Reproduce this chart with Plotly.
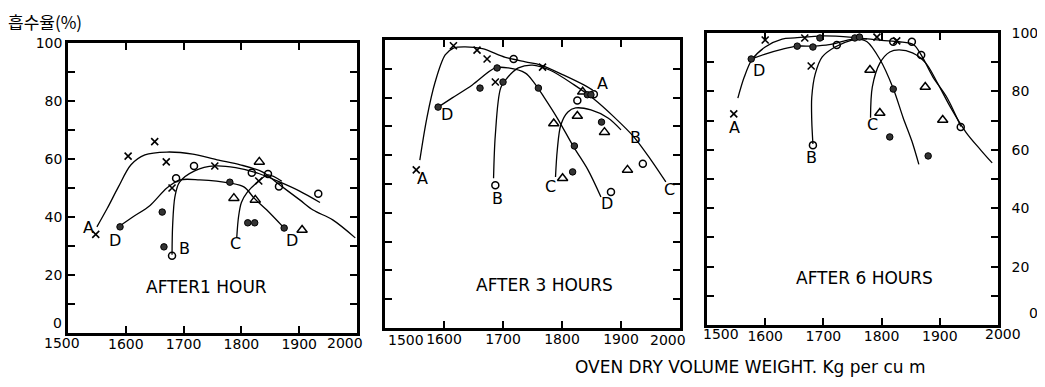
import plotly.graph_objects as go

# ---------------- data ----------------
x_ticks = [1500, 1600, 1700, 1800, 1900, 2000]
x_tick_text = ["1500", "1600", "1700", "1800", "1900", "2000"]
y_ticks = [0, 10, 20, 30, 40, 50, 60, 70, 80, 90, 100]
y_tick_text = ["0", "", "20", "", "40", "", "60", "", "80", "", "100"]

panel_titles = ["AFTER1 HOUR", "AFTER 3 HOURS", "AFTER 6 HOURS"]
title_x = [1740, 1771, 1771]
title_y = [16, 15, 16]

# Panel 1: after 1 hour
p1_cross_x = [1548, 1604, 1650, 1670, 1680, 1754, 1830]
p1_cross_y = [34, 61, 66, 59, 50, 57.6, 52.4]
p1_circle_x = [1680, 1687, 1718, 1818, 1846, 1865, 1933]
p1_circle_y = [26.6, 53.4, 57.6, 55.3, 54.8, 50.5, 48]
p1_tri_x = [1787, 1824, 1831, 1905]
p1_tri_y = [46.5, 45.9, 59, 35.5]
p1_dot_x = [1590, 1663, 1666, 1780, 1811, 1823, 1874]
p1_dot_y = [36.6, 41.7, 29.7, 52, 38, 38, 36.2]

p1_A_x = [1550, 1568, 1587, 1609, 1633, 1671, 1716, 1758, 1798, 1837, 1862, 1901, 1924, 1958, 1997]
p1_A_y = [36.6, 43, 50.3, 58, 61.4, 62.4, 61.7, 59.7, 58, 55.5, 51.7, 45.9, 42.4, 39, 32.8]
p1_B_x = [1680, 1681, 1685, 1693, 1720, 1754, 1790, 1830, 1867, 1900, 1936]
p1_B_y = [27, 37, 47, 52, 56, 57.6, 57, 55, 52, 49, 45]
p1_C_x = [1792, 1795, 1800, 1810, 1830, 1846, 1870]
p1_C_y = [33, 40, 45, 48.5, 52.4, 54.5, 52.3]
p1_D_x = [1590, 1612, 1642, 1671, 1694, 1728, 1780, 1805, 1822, 1844, 1872]
p1_D_y = [37, 40, 44, 50, 52.8, 52.8, 51.7, 50.3, 46.5, 42.4, 36.6]

p1_lbl_text = ["A", "D", "B", "C", "D"]
p1_lbl_x = [1536, 1581, 1702, 1789, 1888]
p1_lbl_y = [36.5, 32, 29.3, 31, 32]

# Panel 2: after 3 hours
p2_cross_x = [1553, 1616, 1656, 1673, 1687, 1767]
p2_cross_y = [54.9, 98, 96.5, 93.4, 85.4, 90.6]
p2_circle_x = [1687, 1718, 1826, 1854, 1883, 1937]
p2_circle_y = [49.6, 93.4, 79, 81.2, 47.2, 57]
p2_tri_x = [1786, 1801, 1826, 1835, 1872, 1911]
p2_tri_y = [71, 52, 73.6, 82, 68, 54.9]
p2_dot_x = [1590, 1661, 1690, 1700, 1760, 1818, 1821, 1843, 1849, 1867]
p2_dot_y = [76.7, 83.3, 90.3, 85.4, 83.3, 54.2, 63.2, 81, 81, 71.5]

p2_A_x = [1559, 1571, 1585, 1602, 1616, 1636, 1665, 1704, 1738, 1764, 1803, 1837, 1852]
p2_A_y = [58.3, 73, 85.4, 94.8, 97.2, 97.6, 97, 94, 92.4, 91.3, 87.8, 84.4, 82.6]
p2_B_x = [1684, 1687, 1696, 1707, 1726, 1750, 1780, 1820, 1854, 1888, 1922, 1951, 1976]
p2_B_y = [52, 67, 83.3, 86.8, 90.3, 91.3, 89.5, 84.5, 79.5, 73.3, 66.3, 58.3, 50.7]
p2_C_x = [1789, 1792, 1798, 1810, 1823, 1849, 1878, 1900]
p2_C_y = [52.4, 61.8, 70.5, 75, 76.4, 75.7, 72.9, 68.8]
p2_D_x = [1590, 1614, 1648, 1687, 1709, 1738, 1752, 1770, 1792, 1820, 1844, 1866]
p2_D_y = [76.7, 79.9, 84.4, 90.3, 90.3, 88.5, 85.4, 80, 72.9, 62.8, 54.9, 45.5]

p2_lbl_text = ["A", "D", "B", "A", "C", "B", "D", "C"]
p2_lbl_x = [1564, 1605, 1690, 1868, 1780, 1924, 1876, 1983]
p2_lbl_y = [52, 74, 45, 85, 49, 66.3, 43.4, 48]

# Panel 3: after 6 hours
p3_cross_x = [1546, 1600, 1668, 1679, 1792, 1826]
p3_cross_y = [72.3, 97.6, 98.3, 88.7, 98.6, 97.3]
p3_circle_x = [1682, 1723, 1820, 1852, 1868, 1936]
p3_circle_y = [61.6, 95.9, 97, 97, 92.5, 67.8]
p3_tri_x = [1780, 1797, 1875, 1905]
p3_tri_y = [87.3, 72.6, 81.5, 70.2]
p3_dot_x = [1576, 1655, 1682, 1694, 1754, 1762, 1814, 1820, 1880]
p3_dot_y = [91.1, 95.5, 95.2, 98.3, 98.3, 98.6, 64.4, 80.8, 57.9]

p3_A_x = [1553, 1564, 1577, 1600, 1629, 1651, 1700, 1750, 1800, 1830, 1855, 1868, 1888, 1912, 1936]
p3_A_y = [77.7, 84.9, 90.8, 95.2, 97.9, 98.3, 99, 98.5, 97.5, 97, 96, 92.5, 85, 78, 68]
p3_B_x = [1682, 1680, 1680, 1686, 1698, 1720, 1749, 1775]
p3_B_y = [62, 70, 78, 86, 91.8, 95.2, 97.6, 98]
p3_C_x = [1781, 1784, 1797, 1814, 1830, 1853, 1876, 1893, 1918, 1945, 1970, 1990]
p3_C_y = [71, 81.5, 89.7, 93.5, 94.2, 93.2, 89.7, 84, 74.7, 66, 60, 55.5]
p3_D_x = [1576, 1600, 1630, 1655, 1682, 1710, 1740, 1758, 1775, 1797, 1820, 1837, 1852, 1864]
p3_D_y = [91, 92.8, 94.5, 95.5, 95.5, 96, 97.5, 98, 97, 91, 81, 71, 63, 55]

p3_lbl_text = ["A", "D", "B", "C"]
p3_lbl_x = [1548, 1589, 1680, 1785]
p3_lbl_y = [67.5, 87.3, 57.5, 68.8]

# ---------------- figure ----------------
OFF = 8                     # the page body adds an 8 px margin
W, H = 1045 - 2 * OFF, 387 - 2 * OFF


def fx(px):
    return (px - OFF) / W


def fy(py):
    return 1 - (py - OFF) / H


boxes = [  # window-pixel boxes (left, right, top, bottom)
    (68, 357, 43, 333),
    (385, 680, 40, 328),
    (707, 998, 33, 325),
]
# hand-lettered end labels sit off their ticks: window-pixel centres (first, last, y)
end_label_pos = [(62, 345, 343), (406, 668, 340), (721, 1003, 334)]
# the "0" of the value axis is lettered above the corner (window-pixel centres)
zero_label_pos = {0: (57, 323), 2: (1033, 313)}

panels = [
    dict(cx=p1_cross_x, cy=p1_cross_y, ox=p1_circle_x, oy=p1_circle_y,
         tx=p1_tri_x, ty=p1_tri_y, dx=p1_dot_x, dy=p1_dot_y,
         curves=[(p1_A_x, p1_A_y), (p1_B_x, p1_B_y), (p1_C_x, p1_C_y), (p1_D_x, p1_D_y)],
         lt=p1_lbl_text, lx=p1_lbl_x, ly=p1_lbl_y),
    dict(cx=p2_cross_x, cy=p2_cross_y, ox=p2_circle_x, oy=p2_circle_y,
         tx=p2_tri_x, ty=p2_tri_y, dx=p2_dot_x, dy=p2_dot_y,
         curves=[(p2_A_x, p2_A_y), (p2_B_x, p2_B_y), (p2_C_x, p2_C_y), (p2_D_x, p2_D_y)],
         lt=p2_lbl_text, lx=p2_lbl_x, ly=p2_lbl_y),
    dict(cx=p3_cross_x, cy=p3_cross_y, ox=p3_circle_x, oy=p3_circle_y,
         tx=p3_tri_x, ty=p3_tri_y, dx=p3_dot_x, dy=p3_dot_y,
         curves=[(p3_A_x, p3_A_y), (p3_B_x, p3_B_y), (p3_C_x, p3_C_y), (p3_D_x, p3_D_y)],
         lt=p3_lbl_text, lx=p3_lbl_x, ly=p3_lbl_y),
]

FONT = "DejaVu Sans"
TICKFONT = dict(family=FONT, size=14, color="black")
fig = go.Figure()
annotations = []
layout = {}

for i, p in enumerate(panels):
    n = "" if i == 0 else str(i + 1)
    xa, ya = "x" + n, "y" + n
    for cxs, cys in p["curves"]:
        fig.add_trace(go.Scatter(x=cxs, y=cys, mode="lines", xaxis=xa, yaxis=ya,
                                 line=dict(color="black", width=1.3, shape="spline", smoothing=0.9),
                                 showlegend=False, hoverinfo="skip"))
    fig.add_trace(go.Scatter(x=p["cx"], y=p["cy"], mode="markers", xaxis=xa, yaxis=ya,
                             marker=dict(symbol="x-thin", size=7, line=dict(color="black", width=1.6)),
                             showlegend=False))
    fig.add_trace(go.Scatter(x=p["ox"], y=p["oy"], mode="markers", xaxis=xa, yaxis=ya,
                             marker=dict(symbol="circle-open", size=7, color="black", line=dict(width=1.5)),
                             showlegend=False))
    fig.add_trace(go.Scatter(x=p["tx"], y=p["ty"], mode="markers", xaxis=xa, yaxis=ya,
                             marker=dict(symbol="triangle-up-open", size=9, color="black", line=dict(width=1.5)),
                             showlegend=False))
    fig.add_trace(go.Scatter(x=p["dx"], y=p["dy"], mode="markers", xaxis=xa, yaxis=ya,
                             marker=dict(symbol="circle", size=6.5, color="#333333",
                                         line=dict(color="black", width=1)),
                             showlegend=False))
    for t, lx, ly in zip(p["lt"], p["lx"], p["ly"]):
        annotations.append(dict(x=lx, y=ly, xref=xa, yref=ya, text=t, showarrow=False,
                                font=dict(family=FONT, size=16, color="black")))
    annotations.append(dict(x=title_x[i], y=title_y[i], xref=xa, yref=ya, text=panel_titles[i],
                            showarrow=False, font=dict(family=FONT, size=17, color="black")))

    # inner tick labels from the axis; the two end labels as free text beside their ticks
    ttext = [""] + x_tick_text[1:-1] + [""]
    ex0, ex1, ey = end_label_pos[i]
    for txt, ex in ((x_tick_text[0], ex0), (x_tick_text[-1], ex1)):
        annotations.append(dict(x=fx(ex), y=fy(ey), xref="paper", yref="paper",
                                xanchor="center", yanchor="middle", text=txt,
                                showarrow=False, font=TICKFONT))

    ytext = list(y_tick_text)
    if i in zero_label_pos:
        ytext[0] = ""
        zx, zy = zero_label_pos[i]
        annotations.append(dict(x=fx(zx), y=fy(zy), xref="paper", yref="paper",
                                xanchor="center", yanchor="middle", text=y_tick_text[0],
                                showarrow=False, font=TICKFONT))

    l, r, t, b = boxes[i]
    layout["xaxis" + n] = dict(domain=[fx(l), fx(r)], range=[1500, 2000], anchor=ya,
                               tickvals=x_ticks, ticktext=ttext, tickangle=0, ticks="inside",
                               ticklen=7, tickwidth=2, tickcolor="black",
                               ticklabelstandoff=-4,
                               showline=True, linecolor="black", linewidth=2.5, mirror="ticks",
                               showgrid=False, zeroline=False, automargin=False,
                               tickfont=TICKFONT)
    yax = dict(domain=[fy(b), fy(t)], range=[0, 100], anchor=xa,
               tickvals=y_ticks, ticktext=ytext, ticks="inside",
               ticklen=7, tickwidth=2, tickcolor="black",
               showline=True, linecolor="black", linewidth=2.5, mirror="ticks",
               showgrid=False, zeroline=False, automargin=False,
               tickfont=TICKFONT)
    if i == 1:
        yax["showticklabels"] = False
    if i == 2:
        yax["side"] = "right"
        yax["ticklabelstandoff"] = 8
    layout["yaxis" + n] = yax

annotations.append(dict(x=fx(6), y=fy(21), xref="paper", yref="paper",
                        xanchor="left", yanchor="middle",
                        text="흡수율(%)", showarrow=False,
                        font=dict(family="Noto Sans CJK KR", size=17, color="black")))
annotations.append(dict(x=fx(750), y=fy(367), xref="paper", yref="paper",
                        xanchor="center", yanchor="middle",
                        text="OVEN DRY VOLUME WEIGHT. Kg per cu m", showarrow=False,
                        font=dict(family=FONT, size=17, color="black")))

fig.update_layout(width=W, height=H, margin=dict(l=0, r=0, t=0, b=0, autoexpand=False),
                  paper_bgcolor="white", plot_bgcolor="white",
                  annotations=annotations, **layout)

fig.write_html("out.html")
